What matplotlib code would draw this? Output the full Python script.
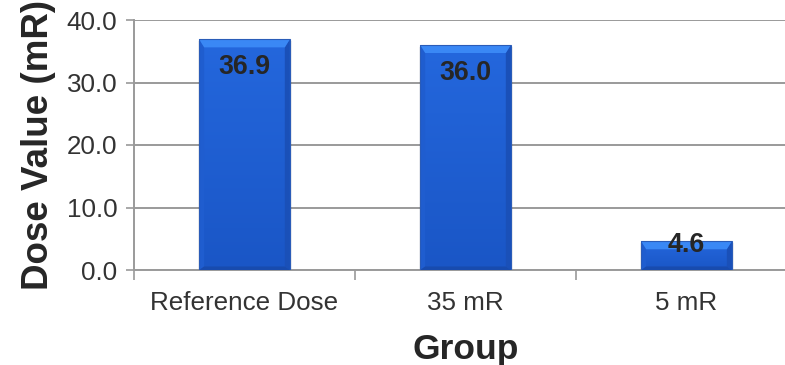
import matplotlib
matplotlib.use("Agg")
import matplotlib.pyplot as plt
import numpy as np
from matplotlib.patches import Polygon

plt.rcParams['font.family'] = ['Liberation Sans', 'DejaVu Sans']

groups = ["Reference Dose", "35 mR", "5 mR"]
dose_values = [36.9, 36.0, 4.6]
y_ticks = [0.0, 10.0, 20.0, 30.0, 40.0]

W, H, DPI = 785, 365, 100
fig = plt.figure(figsize=(W / DPI, H / DPI), dpi=DPI)
ax = fig.add_axes([134 / W, 95 / H, 663 / W, 250 / H])

ax.set_xlim(-0.5, len(groups) - 0.5)
ax.set_ylim(0, 40)

grid_c = '#9a9a9a'
ax.set_yticks(y_ticks)
ax.set_yticklabels([f"{t:.1f}" for t in y_ticks])
ax.set_xticks(range(len(groups)))
ax.set_xticklabels(groups)
ax.set_xticks(np.arange(-0.5, len(groups)), minor=True)
ax.tick_params(axis='x', which='major', length=0, pad=15, labelsize=18.7, labelcolor='#333333')
ax.tick_params(axis='x', which='minor', length=7, width=1.2, color=grid_c, direction='out')
ax.tick_params(axis='y', length=6, width=1.2, color=grid_c, direction='out', pad=6,
               labelsize=18.7, labelcolor='#333333')
for s in ['top', 'right']:
    ax.spines[s].set_visible(False)
for s in ['left', 'bottom']:
    ax.spines[s].set_color(grid_c)
    ax.spines[s].set_linewidth(1.4)
ax.yaxis.grid(True, color=grid_c, linewidth=1.4)
ax.set_axisbelow(True)

# pixel-to-data conversion for the bevel sizes
px_x = 3.0 / 663
px_y = 40.0 / 250

bar_w = 0.41
grad = np.linspace(0, 1, 64).reshape(-1, 1)
cmap = matplotlib.colors.LinearSegmentedColormap.from_list('face', ['#1a56c6', '#2467dd'])
for i, v in enumerate(dose_values):
    x0, x1 = i - bar_w / 2, i + bar_w / 2
    y0, y1 = 0.0, v
    # soft drop shadow
    for k, a in [(3, 0.06), (2, 0.08), (1, 0.10)]:
        ax.add_patch(plt.Rectangle((x0 - k * px_x * 0.3, y0), bar_w + k * px_x, v - 0.3,
                                   color='#000000', alpha=a, zorder=2, lw=0))
    ax.imshow(grad, cmap=cmap, origin='lower', extent=[x0, x1, y0, y1],
              aspect='auto', zorder=3, interpolation='bilinear')
    bx, bt, bb = 5 * px_x, 8 * px_y, 3.5 * px_y
    top = [(x0, y1), (x1, y1), (x1 - bx, y1 - bt), (x0 + bx, y1 - bt)]
    left = [(x0, y0), (x0, y1), (x0 + bx, y1 - bt), (x0 + bx, y0 + bb)]
    right = [(x1, y0), (x1, y1), (x1 - bx, y1 - bt), (x1 - bx, y0 + bb)]
    bottom = [(x0, y0), (x1, y0), (x1 - bx, y0 + bb), (x0 + bx, y0 + bb)]
    for pts, c in [(left, '#1f5dcf'), (right, '#1a50b8'), (bottom, '#184bae'), (top, '#3a88f5')]:
        ax.add_patch(Polygon(pts, closed=True, facecolor=c, edgecolor='none', zorder=4))
    ax.add_patch(plt.Rectangle((x0, y0), bar_w, v, fill=False, edgecolor='#2a5cb8',
                               lw=0.8, zorder=5))
    ax.text(i, max(v - 4.45, 4.0), f"{v:.1f}", ha='center', va='center',
            fontsize=19.3, fontweight='bold', color='#262626', zorder=6)

ax.set_xlabel("Group", fontsize=25.5, fontweight='bold', color='#262626', labelpad=13)
ax.set_ylabel("Dose Value (mR)", fontsize=26.5, fontweight='bold', color='#262626', labelpad=8)

fig.savefig("out.png", dpi=DPI)
